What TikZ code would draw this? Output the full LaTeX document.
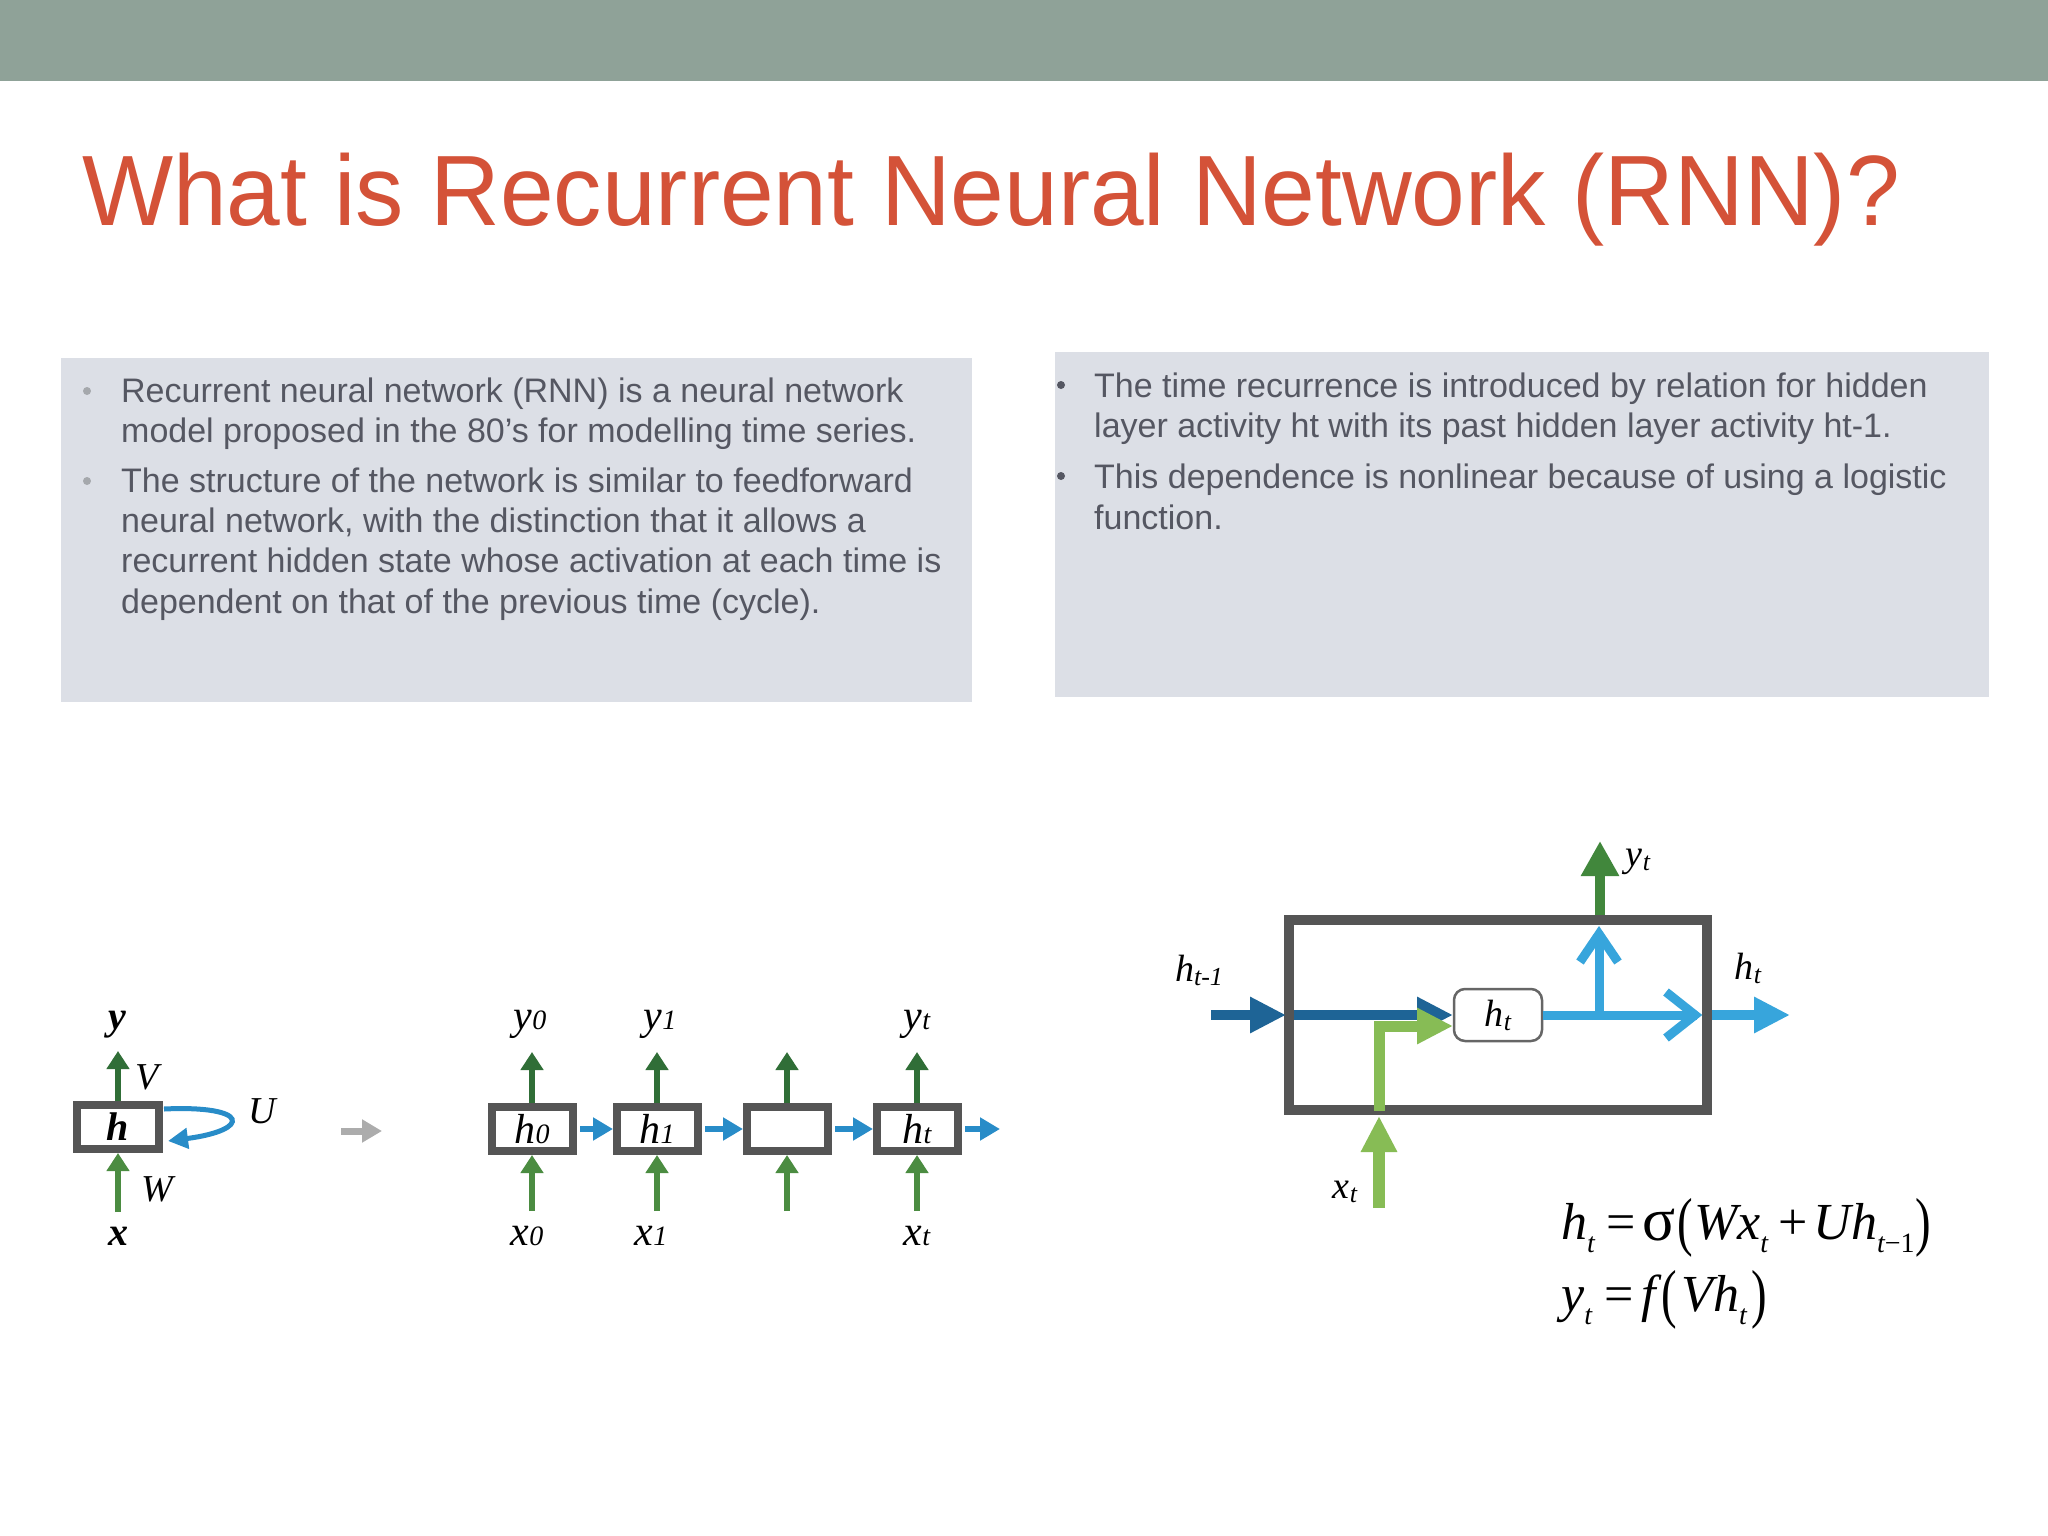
\documentclass[tikz,border=0pt]{standalone}
\usepackage{fontspec}
\usepackage{graphicx}
\setmainfont{Liberation Sans}
\newfontfamily\tms{Liberation Serif}
\usetikzlibrary{arrows.meta}
\definecolor{bannerc}{RGB}{143,162,152}
\definecolor{titlec}{RGB}{212,82,56}
\definecolor{boxfill}{RGB}{220,223,230}
\definecolor{txtc}{RGB}{85,87,98}
\definecolor{bulletl}{RGB}{165,168,172}
\definecolor{cellgray}{RGB}{85,85,85}
\definecolor{dgreen}{RGB}{48,110,55}
\definecolor{mgreen}{RGB}{75,140,65}
\definecolor{blueA}{RGB}{40,140,200}
\definecolor{grayA}{RGB}{172,172,172}
\definecolor{dblue}{RGB}{30,100,150}
\definecolor{lgreen}{RGB}{135,188,85}
\definecolor{cyanA}{RGB}{55,165,220}
\definecolor{ygreen}{RGB}{65,135,60}
\newcommand\dsub[1]{{\fontsize{28}{28}\selectfont #1}}
\newcommand\rsub[1]{\raisebox{-4pt}{\fontsize{26}{26}\selectfont #1}}
\newcommand\esub[1]{\raisebox{-13pt}{\fontsize{28}{28}\selectfont #1}}
\newcommand\bigp[1]{\raisebox{-4pt}{\scalebox{0.9}[1.25]{\upshape #1}}}
\begin{document}
\begin{tikzpicture}[x=1pt,y=-1pt,
  txt/.style={anchor=base west, inner sep=0pt, text=txtc, font=\fontsize{34}{40}\selectfont},
  lbl/.style={inner sep=0pt, font=\tms\itshape\fontsize{38}{38}\selectfont},
  clbl/.style={inner sep=0pt, font=\tms\itshape\fontsize{42}{42}\selectfont},
  cell/.style={draw=cellgray, line width=8pt, fill=white, minimum width=81pt, minimum height=44pt, inner sep=0pt},
  upd/.style={dgreen, line width=6pt, -{Triangle[length=18pt,width=22pt]}},
  upm/.style={mgreen, line width=6pt, -{Triangle[length=18pt,width=22pt]}},
  harr/.style={blueA, line width=6pt, -{Triangle[length=20pt,width=22pt]}},
  fat/.style={line width=10pt, -{Triangle[length=36pt,width=34pt]}},
  chev/.style={cyanA, line width=9pt, line join=miter, miter limit=10}
]
\useasboundingbox (0,0) rectangle (2048,1536);
\fill[white] (0,0) rectangle (2048,1536);
% banner and title
\fill[bannerc] (0,0) rectangle (2048,81);
\node[anchor=base west, inner sep=0pt, text=titlec, font=\fontsize{100}{100}\selectfont] (title) at (82,225) {\scalebox{0.965}[1]{What is Recurrent Neural Network (RNN)?}};
% text boxes
\fill[boxfill] (61,358) rectangle (972,702);
\fill[boxfill] (1055,352) rectangle (1989,697);
\fill[bulletl] (87,391) circle (4);
\fill[bulletl] (87,481) circle (4);
\node[txt] (l1) at (121,402) {Recurrent neural network (RNN) is a neural network};
\node[txt] (l2) at (121,442) {model proposed in the 80’s for modelling time series.};
\node[txt] (l3) at (121,492) {The structure of the network is similar to feedforward};
\node[txt] (l4) at (121,532) {neural network, with the distinction that it allows a};
\node[txt] (l5) at (121,572) {recurrent hidden state whose activation at each time is};
\node[txt] (l6) at (121,613) {dependent on that of the previous time (cycle).};
\fill[txtc] (1061,385) circle (4);
\fill[txtc] (1061,476) circle (4);
\node[txt] (r1) at (1094,397) {The time recurrence is introduced by relation for hidden};
\node[txt] (r2) at (1094,437) {layer activity ht with its past hidden layer activity ht-1.};
\node[txt] (r3) at (1094,488) {This dependence is nonlinear because of using a logistic};
\node[txt] (r4) at (1094,529) {function.};

% ---------- folded RNN ----------
\node[cell, minimum width=82pt] (h) at (118,1127) {\tms\bfseries\itshape\fontsize{40}{40}\selectfont h};
\coordinate (ytip) at (118,1051);
\coordinate (xbot) at (118,1212);
\coordinate (hbot) at (118,1153);
\draw[upd] (118,1101) -- (ytip);
\draw[upm] (xbot) -- (hbot);
\node[lbl, font=\tms\bfseries\itshape\fontsize{40}{40}\selectfont] (ly) at (117,1025) {y};
\node[lbl, font=\tms\bfseries\itshape\fontsize{40}{40}\selectfont] (lx) at (118,1236) {x};
\node[lbl] (lV) at (147,1077) {V};
\node[lbl] (lW) at (157,1189) {W};
\node[lbl] (lU) at (262,1111) {U};
\coordinate (u1) at (164,1109);
\coordinate (u2) at (168,1141);
\draw[blueA, line width=5pt, -{Triangle[length=20pt,width=20pt]}] (u1) .. controls (250,1105) and (252,1130) .. (u2);
% grey arrow
\coordinate (g1) at (341,1131);
\coordinate (g2) at (382,1131);
\draw[grayA, line width=7pt, -{Triangle[length=20pt,width=22pt]}] (g1) -- (g2);

% ---------- unrolled RNN ----------
\node[cell] (c0) at (532,1129) {\tms\itshape\fontsize{42}{42}\selectfont h\dsub{0}};
\node[cell] (c1) at (657,1129) {\tms\itshape\fontsize{42}{42}\selectfont h\dsub{1}};
\node[cell] (c2) at (787,1129) {};
\node[cell] (c3) at (917,1129) {\tms\itshape\fontsize{42}{42}\selectfont h\dsub{t}};
\foreach \i/\x in {0/532,1/657,2/787,3/917}{
  \coordinate (yt\i) at (\x,1052);
  \coordinate (xb\i) at (\x,1211);
  \coordinate (cb\i) at (\x,1155);
  \draw[upd] (\x,1103) -- (yt\i);
  \draw[upm] (xb\i) -- (cb\i);
}
\draw[harr] (580,1129) -- (613,1129);
\draw[harr] (705,1129) -- (743,1129);
\draw[harr] (835,1129) -- (873,1129);
\coordinate (cend) at (1000,1129);
\draw[harr] (965,1129) -- (cend);
\node[clbl] (y0) at (530,1024) {y\dsub{0}};
\node[clbl] (y1) at (660,1024) {y\dsub{1}};
\node[clbl] (y3) at (917,1024) {y\dsub{t}};
\node[clbl] (x0) at (527,1236) {x\dsub{0}};
\node[clbl] (x1) at (651,1236) {x\dsub{1}};
\node[clbl] (x3) at (917,1236) {x\dsub{t}};

% ---------- RNN cell ----------
\node[draw=cellgray, line width=10pt, minimum width=418pt, minimum height=190pt, inner sep=0pt] (big) at (1498,1015) {};
\coordinate (hin) at (1211,1015);
\coordinate (hinend) at (1286,1015);
\draw[dblue, fat] (hin) -- (hinend);
\coordinate (inL) at (1294,1015);
\coordinate (sboxW) at (1453,1015);
\draw[dblue, fat] (inL) -- (sboxW);
\coordinate (gs) at (1379,1111);
\coordinate (gt) at (1453,1026);
\draw[lgreen, line width=11pt, line join=miter, -{Triangle[length=36pt,width=34pt]}] (gs) |- (gt);
\coordinate (xs) at (1379,1208);
\coordinate (xe) at (1379,1116);
\draw[lgreen, line width=12pt, -{Triangle[length=36pt,width=34pt]}] (xs) -- (xe);
\node[draw=gray!80!black, line width=2.5pt, fill=white, rounded corners=11pt, minimum width=88pt, minimum height=52pt, inner sep=0pt] (sb) at (1498,1015) {\tms\itshape\fontsize{38}{38}\selectfont h\rsub{t}};
\coordinate (ce) at (1697,1015);
\draw[cyanA, line width=9pt] (sb.east) -- (ce);
\draw[chev] (1666,992) -- (1695,1015) -- (1666,1038);
\coordinate (vb) at (1599,1019);
\coordinate (vt) at (1599,936);
\draw[cyanA, line width=9pt] (vb) -- (vt);
\draw[chev] (1580,962) -- (1599,934) -- (1618,962);
\coordinate (yb) at (1600,915);
\coordinate (ytp) at (1600,841);
\draw[ygreen, line width=10pt, -{Triangle[length=35pt,width=36pt]}] (yb) -- (ytp);
\coordinate (os) at (1712,1015);
\coordinate (oe) at (1790,1015);
\draw[cyanA, fat] (os) -- (oe);
\node[lbl] (lhm) at (1199,970) {h\rsub{t-1}};
\node[lbl] (lyt) at (1638,862) {y\rsub{t}};
\node[lbl] (lht) at (1748,968) {h\rsub{t}};
\node[lbl] (lxt) at (1345,1192) {x\rsub{t}};
% equations
\node[anchor=base west, inner sep=0pt, font=\tms\itshape\fontsize{52}{52}\selectfont] (eq1) at (1561,1239)
  {h\esub{t}\hspace{12pt}{\upshape =}\hspace{6pt}\raisebox{-1pt}{\scalebox{1.18}{\upshape σ}}\hspace{2pt}\bigp{(}\hspace{2pt}W\kern-1pt x\esub{t}\hspace{10pt}{\upshape +}\hspace{6pt}Uh\esub{t{\upshape −1}}\hspace{1pt}\bigp{)}};
\node[anchor=base west, inner sep=0pt, font=\tms\itshape\fontsize{52}{52}\selectfont] (eq2) at (1561,1311)
  {y\esub{t}\hspace{12pt}{\upshape =}\hspace{8pt}f\hspace{6pt}\bigp{(}\hspace{4pt}Vh\esub{t}\hspace{5pt}\bigp{)}};
\end{tikzpicture}
\end{document}
